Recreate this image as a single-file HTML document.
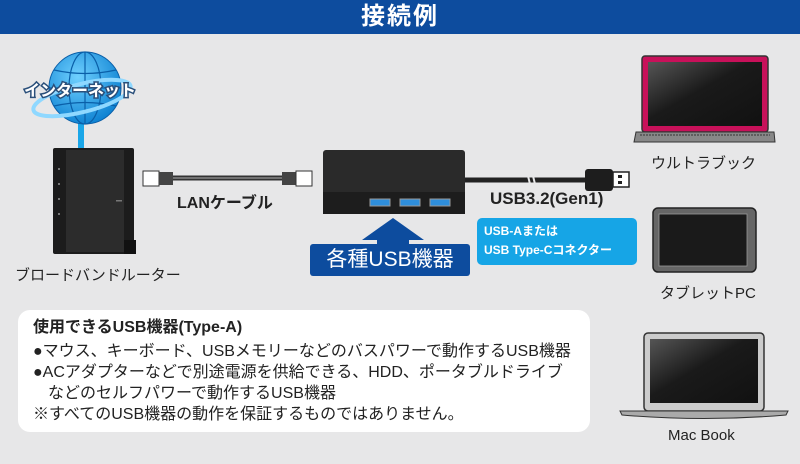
<!DOCTYPE html>
<html><head><meta charset="utf-8"><style>
*{margin:0;padding:0;box-sizing:border-box}
body{width:800px;height:464px;background:#e7e7e8;position:relative;overflow:hidden;font-family:"Liberation Sans","Noto Sans CJK JP",sans-serif;color:#222}
.a{position:absolute;white-space:nowrap}
.hdr{left:0;top:0;width:800px;height:34px;background:#0d4c9e;color:#fff;font-size:24px;font-weight:bold;text-align:center;line-height:34px;letter-spacing:2px}
.lbl{font-size:15px;color:#222}
.box{left:18px;top:310px;width:572px;height:122px;background:#fff;border-radius:12px}
.t{font-size:16px;color:#222;line-height:21px}
</style></head><body>
<div class="a hdr">接続例</div>

<svg class="a" style="left:0;top:0" width="800" height="464">
<defs>
<radialGradient id="gl" cx="40%" cy="35%" r="70%"><stop offset="0" stop-color="#6fd0ff"/><stop offset="1" stop-color="#0a7fd0"/></radialGradient>
<linearGradient id="scr" x1="0" y1="0" x2="1" y2="1"><stop offset="0" stop-color="#555"/><stop offset=".45" stop-color="#1a1a1a"/><stop offset="1" stop-color="#111"/></linearGradient>
</defs>
<!-- globe -->
<rect x="78" y="115" width="6" height="35" fill="#1aa6e8"/>
<circle cx="85" cy="88" r="36" fill="url(#gl)" stroke="#0a5fa8" stroke-width="1"/>
<g stroke="#0a5fa8" stroke-width="1.2" fill="none">
<ellipse cx="85" cy="88" rx="16" ry="36"/><line x1="85" y1="52" x2="85" y2="124"/>
<line x1="49" y1="88" x2="121" y2="88"/><path d="M54 70 Q85 77 116 70"/><path d="M54 106 Q85 99 116 106"/>
</g>
<ellipse cx="82" cy="98" rx="50" ry="14" fill="none" stroke="#8fd8ff" stroke-width="4" transform="rotate(-14 82 98)"/>
<text x="80" y="96" font-size="16" font-weight="bold" fill="#fff" stroke="#2a4f7a" stroke-width="3" paint-order="stroke" text-anchor="middle" font-family="Liberation Sans,Noto Sans CJK JP,sans-serif">インターネット</text>
<!-- router -->
<rect x="53" y="148" width="81" height="106" rx="2" fill="#1c1c1c"/>
<rect x="66" y="150" width="58" height="102" fill="#2c2c2c"/>
<rect x="124" y="240" width="12" height="14" fill="#111"/>
<g fill="#777"><rect x="58" y="168" width="2" height="2"/><rect x="58" y="183" width="2" height="2"/><rect x="58" y="198" width="2" height="2"/><rect x="58" y="213" width="2" height="2"/><rect x="116" y="200" width="6" height="1.5"/></g>
<!-- LAN cable -->
<line x1="170" y1="178" x2="285" y2="178" stroke="#333" stroke-width="5"/>
<line x1="170" y1="178" x2="285" y2="178" stroke="#888" stroke-width="1.5"/>
<rect x="143" y="171" width="16" height="15" fill="#fff" stroke="#333"/><rect x="159" y="172" width="14" height="13" fill="#444"/>
<rect x="282" y="172" width="14" height="13" fill="#444"/><rect x="296" y="171" width="16" height="15" fill="#fff" stroke="#333"/>
<!-- hub -->
<rect x="323" y="150" width="142" height="64" rx="3" fill="#2a2a2a"/>
<rect x="323" y="192" width="142" height="22" fill="#1d1d1d"/>
<g fill="#2f8fdc" stroke="#999" stroke-width="1"><rect x="370" y="199" width="20" height="7"/><rect x="400" y="199" width="20" height="7"/><rect x="430" y="199" width="20" height="7"/></g>
<!-- usb cable -->
<line x1="465" y1="180" x2="590" y2="180" stroke="#222" stroke-width="5"/>
<path d="M527 172 l4 16 M532 172 l4 16" stroke="#e7e7e8" stroke-width="2"/>
<rect x="585" y="169" width="28" height="22" rx="3" fill="#1d1d1d"/>
<rect x="613" y="172" width="16" height="15" fill="#fff" stroke="#222" stroke-width="1.5"/>
<rect x="618" y="175" width="4" height="3" fill="#222"/><rect x="618" y="181" width="4" height="3" fill="#222"/>
<!-- arrow -->
<path d="M393 218 L424 240 L409 240 L409 246 L377 246 L377 240 L362 240 Z" fill="#0d4c9e"/>
<rect x="310" y="244" width="160" height="32" rx="3" fill="#0d4c9e"/>
<rect x="477" y="218" width="160" height="47" rx="5" fill="#16a5e6"/>
<!-- ultrabook -->
<rect x="642" y="56" width="126" height="76" rx="3" fill="#c8115a" stroke="#333" stroke-width="1.5"/>
<rect x="648" y="62" width="114" height="64" fill="url(#scr)"/>
<path d="M636 132 L774 132 L775 142 L634 142 Z" fill="#888" stroke="#333"/>
<line x1="640" y1="135" x2="770" y2="135" stroke="#333" stroke-dasharray="2 1"/>
<!-- tablet -->
<rect x="653" y="208" width="103" height="64" rx="5" fill="#666" stroke="#222" stroke-width="1.5"/>
<rect x="659" y="214" width="88" height="52" fill="#1a1a1a" stroke="#999" stroke-width=".8"/>
<!-- macbook -->
<rect x="644" y="333" width="120" height="78" rx="4" fill="#ccc" stroke="#333" stroke-width="1.5"/>
<rect x="650" y="339" width="108" height="64" fill="url(#scr)"/>
<path d="M620 411 L788 411 L786 415 Q704 422 622 415 Z" fill="#aaa" stroke="#333"/>
</svg>

<div class="a lbl" style="left:15px;top:264px;font-size:15px">ブロードバンドルーター</div>
<div class="a" style="left:177px;top:189px;font-size:16px;font-weight:bold">LANケーブル</div>
<div class="a" style="left:490px;top:189px;font-size:17px;font-weight:bold">USB3.2(Gen1)</div>
<div class="a" style="left:310px;top:244px;width:160px;text-align:center;color:#fff;font-size:21px;line-height:32px">各種USB機器</div>
<div class="a" style="left:484px;top:222px;color:#fff;font-size:12px;font-weight:bold;line-height:19px">USB-Aまたは<br>USB Type-Cコネクター</div>
<div class="a lbl" style="left:651px;top:152px">ウルトラブック</div>
<div class="a lbl" style="left:660px;top:282px">タブレットPC</div>
<div class="a lbl" style="left:668px;top:427px">Mac Book</div>

<div class="a box"></div>
<div class="a t" style="left:33px;top:317px;font-weight:bold">使用できるUSB機器(Type-A)</div>
<div class="a t" style="left:33px;top:341px">●マウス、キーボード、USBメモリーなどのバスパワーで動作するUSB機器</div>
<div class="a t" style="left:33px;top:362px">●ACアダプターなどで別途電源を供給できる、HDD、ポータブルドライブ</div>
<div class="a t" style="left:48px;top:383px">などのセルフパワーで動作するUSB機器</div>
<div class="a t" style="left:33px;top:404px">※すべてのUSB機器の動作を保証するものではありません。</div>
</body></html>
